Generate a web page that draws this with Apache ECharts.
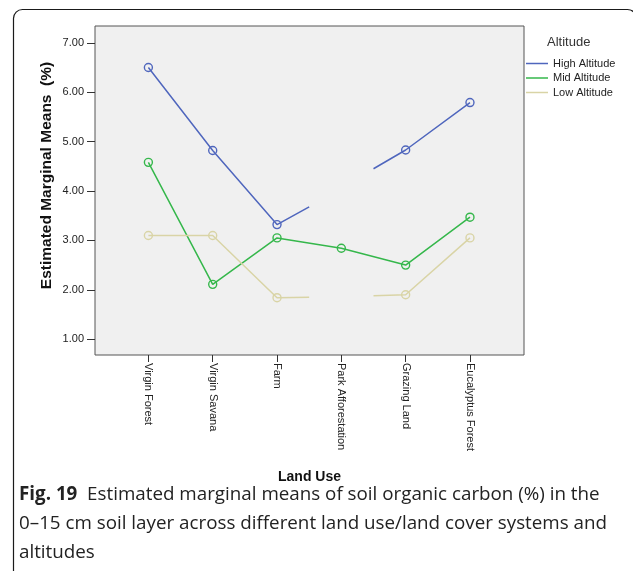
<!DOCTYPE html>
<html>
<head>
<meta charset="utf-8">
<style>
  html, body { margin: 0; padding: 0; background: #ffffff; }
  #chart { width: 633px; height: 571px; }
</style>
<script src="https://cdn.jsdelivr.net/npm/echarts@6/dist/echarts.min.js"></script>
</head>
<body>
<div id="chart"></div>
<script>
// Land use categories along the x axis
const landUse = ['Virgin Forest', 'Virgin Savana', 'Farm', 'Park Afforestation', 'Grazing Land', 'Eucalyptus Forest'];

// Estimated marginal means of SOC (%) per altitude; null = not estimable
const highAltitude = [6.50, 4.82, 3.32, null, 4.83, 5.79];
const midAltitude  = [4.58, 2.11, 3.05, 2.84, 2.50, 3.47];
const lowAltitude  = [3.10, 3.10, 1.84, null, 1.90, 3.05];

// Values at the two edges of a missing category (line stubs drawn half-way)
const highGapEdges = [3.68, 4.45];
const lowGapEdges  = [1.85, 1.88];

const yTicks = [1, 2, 3, 4, 5, 6, 7];
const altitudeNames = ['High Altitude', 'Mid Altitude', 'Low Altitude'];
const altitudeColors = ['#4f66bd', '#35b74b', '#d9d4a6'];

// Turn a value list into [index, value] points; a missing value becomes
// a break with half-way stubs on either side.
function buildPoints(values, gapEdges) {
  const pts = [];
  values.forEach((v, i) => {
    if (v === null) {
      pts.push({ value: [i - 0.5, gapEdges[0]], symbol: 'none' });
      pts.push({ value: [i, '-'], symbol: 'none' });
      pts.push({ value: [i + 0.5, gapEdges[1]], symbol: 'none' });
    } else {
      pts.push({ value: [i, v] });
    }
  });
  return pts;
}

const seriesValues = [
  buildPoints(highAltitude, highGapEdges),
  buildPoints(midAltitude, null),
  buildPoints(lowAltitude, lowGapEdges)
];

const chart = echarts.init(document.getElementById('chart'), null, { renderer: 'canvas' });

const option = {
  animation: false,
  backgroundColor: '#ffffff',
  textStyle: { fontFamily: 'Liberation Sans, Arial, sans-serif' },
  title: {
    text: 'Altitude',
    left: 547,
    top: 36,
    padding: 0,
    textStyle: { fontSize: 13, fontWeight: 'normal', color: '#333333', fontFamily: 'Liberation Sans, Arial, sans-serif' }
  },
  legend: {
    orient: 'vertical',
    left: 526,
    top: 57,
    padding: 0,
    icon: 'rect',
    itemWidth: 22,
    itemHeight: 1.5,
    itemGap: 1.5,
    textStyle: { fontSize: 11, color: '#222222', lineHeight: 13 },
    data: altitudeNames.map((n, i) => ({ name: n, itemStyle: { color: altitudeColors[i], borderWidth: 0 } }))
  },
  grid: {
    left: 95,
    top: 26,
    width: 429,
    height: 329,
    show: true,
    backgroundColor: '#f0f0f0',
    borderColor: '#555555',
    borderWidth: 1,
    containLabel: false,
    outerBoundsMode: 'none'
  },
  xAxis: {
    type: 'value',
    min: -0.83,
    max: 5.84,
    name: 'Land Use',
    nameLocation: 'middle',
    nameGap: 115,
    nameTextStyle: { fontSize: 14, fontWeight: 'bold', color: '#111111' },
    axisLine: { show: false, onZero: false },
    splitLine: { show: false },
    axisTick: {
      show: true,
      customValues: landUse.map((_, i) => i),
      length: 7,
      lineStyle: { color: '#333333', width: 1 }
    },
    axisLabel: {
      customValues: landUse.map((_, i) => i),
      rotate: -90,
      margin: 8,
      fontSize: 11,
      color: '#222222',
      formatter: v => landUse[Math.round(v)]
    }
  },
  yAxis: {
    type: 'value',
    min: 0.68,
    max: 7.34,
    name: 'Estimated Marginal Means  (%)',
    nameLocation: 'middle',
    nameRotate: 90,
    nameGap: 40,
    nameMoveOverlap: false,
    nameTextStyle: { fontSize: 15.5, fontWeight: 'bold', color: '#111111', padding: [0, 0, 0, 30] },
    axisLine: { show: false, onZero: false },
    splitLine: { show: false },
    axisTick: {
      show: true,
      customValues: yTicks,
      length: 8,
      lineStyle: { color: '#333333', width: 1 }
    },
    axisLabel: {
      customValues: yTicks,
      margin: 11,
      fontSize: 11,
      color: '#222222',
      formatter: v => v.toFixed(2)
    }
  },
  series: altitudeNames.map((n, i) => ({
    name: n,
    type: 'line',
    data: seriesValues[i],
    connectNulls: false,
    symbol: 'circle',
    symbolSize: 8,
    showAllSymbol: true,
    color: altitudeColors[i],
    lineStyle: { color: altitudeColors[i], width: 1.5 },
    itemStyle: { color: 'rgba(0,0,0,0)', borderColor: altitudeColors[i], borderWidth: 1.4 },
    emphasis: { disabled: true }
  })),
  graphic: [
    {
      type: 'rect',
      shape: { x: 13.5, y: 9.5, width: 623, height: 640, r: 9 },
      style: { fill: 'none', stroke: '#1a1a1a', lineWidth: 1.2 },
      silent: true
    },
    {
      type: 'text',
      left: 19,
      top: 480,
      style: {
        text: '{b|Fig. 19}  Estimated marginal means of soil organic carbon (%) in the\n0–15 cm soil layer across different land use/land cover systems and\naltitudes',
        fontFamily: 'Open Sans, sans-serif',
        fontSize: 18.8,
        lineHeight: 29,
        fill: '#222222',
        rich: {
          b: { fontFamily: 'Open Sans, sans-serif', fontSize: 18.8, fontWeight: 'bold', fill: '#222222', lineHeight: 29 }
        }
      },
      silent: true
    }
  ]
};

chart.setOption(option);
</script>
</body>
</html>
